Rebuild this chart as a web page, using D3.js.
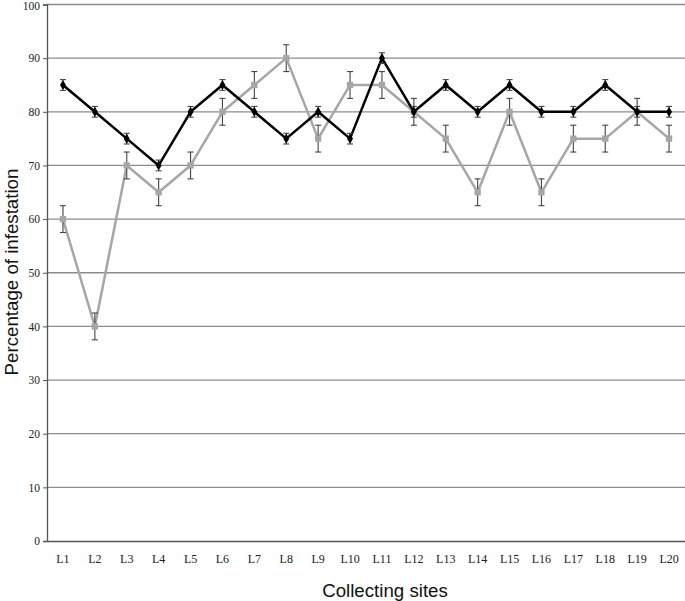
<!DOCTYPE html>
<html><head><meta charset="utf-8">
<script src="https://cdn.jsdelivr.net/npm/d3@7"></script>
<style>body{margin:0;background:#fff}</style>
</head><body>
<svg id="c" width="685" height="601"></svg>
<script>
const sites = ["L1","L2","L3","L4","L5","L6","L7","L8","L9","L10","L11","L12","L13","L14","L15","L16","L17","L18","L19","L20"];
const seriesBlack = [85,80,75,70,80,85,80,75,80,75,90,80,85,80,85,80,80,85,80,80];
const errBlack = [1,1,1,1,1,1,1,1,1,1,1,1,1,1,1,1,1,1,1,1];
const seriesGray = [60,40,70,65,70,80,85,90,75,85,85,80,75,65,80,65,75,75,80,75];
const errGray = [2.5,2.5,2.5,2.5,2.5,2.5,2.5,2.5,2.5,2.5,2.5,2.5,2.5,2.5,2.5,2.5,2.5,2.5,2.5,2.5];
const yTicks = [0,10,20,30,40,50,60,70,80,90,100];

const svg = d3.select("#c");
const L = 47, R = 685, T = 4.5, B = 541;
const x = d3.scaleBand().domain(sites).range([L, R]);
const y = d3.scaleLinear().domain([0,100]).range([B, T]);
const cx = d => x(d) + x.bandwidth()/2;

// gridlines
svg.append("g").selectAll("line").data(yTicks.filter(t=>t>0)).join("line")
  .attr("x1", L).attr("x2", R).attr("y1", d=>y(d)).attr("y2", d=>y(d))
  .attr("stroke", "#8c8c8c").attr("stroke-width", 1.3);

// y axis
const ya = svg.append("g").attr("transform", `translate(${L},0)`)
  .call(d3.axisLeft(y).tickValues(yTicks).tickSize(4).tickPadding(3));
ya.select(".domain").attr("stroke", "#555").attr("stroke-width", 1.3);
ya.selectAll(".tick line").attr("stroke", "#555");
ya.selectAll("text").attr("font-family", "Liberation Serif").attr("font-size", 11.5).attr("fill", "#222");
ya.selectAll(".tick").filter(d=>d===100).select("text").attr("dy", "0.45em");

// x axis
const xa = svg.append("g").attr("transform", `translate(0,${B})`)
  .call(d3.axisBottom(x).tickSize(0).tickPadding(13));
xa.select(".domain").attr("stroke", "#555").attr("stroke-width", 1.6);
xa.selectAll("text").attr("font-family", "Liberation Serif").attr("font-size", 12).attr("fill", "#222");

function drawSeries(vals, errs, color, marker) {
  const g = svg.append("g");
  const pts = sites.map((s,i)=>({s, v: vals[i], e: errs[i]}));
  g.append("path").datum(pts)
    .attr("d", d3.line().x(d=>cx(d.s)).y(d=>y(d.v)))
    .attr("fill","none").attr("stroke", color).attr("stroke-width", 2.5).attr("stroke-linejoin","round");
  const eb = g.selectAll("g.eb").data(pts).join("g");
  eb.append("line").attr("x1", d=>cx(d.s)).attr("x2", d=>cx(d.s))
    .attr("y1", d=>y(d.v+d.e)).attr("y2", d=>y(d.v-d.e)).attr("stroke","#444").attr("stroke-width",1.1);
  eb.append("line").attr("x1", d=>cx(d.s)-3).attr("x2", d=>cx(d.s)+3)
    .attr("y1", d=>y(d.v+d.e)).attr("y2", d=>y(d.v+d.e)).attr("stroke","#444").attr("stroke-width",1.1);
  eb.append("line").attr("x1", d=>cx(d.s)-3).attr("x2", d=>cx(d.s)+3)
    .attr("y1", d=>y(d.v-d.e)).attr("y2", d=>y(d.v-d.e)).attr("stroke","#444").attr("stroke-width",1.1);
  g.selectAll("path.m").data(pts).join("path").attr("class","m")
    .attr("d", d3.symbol().type(marker).size(marker===d3.symbolDiamond?30:40))
    .attr("transform", d=>`translate(${cx(d.s)},${y(d.v)})`)
    .attr("fill", color);
}
drawSeries(seriesGray, errGray, "#a6a6a6", d3.symbolSquare);
drawSeries(seriesBlack, errBlack, "#000", d3.symbolDiamond);

svg.append("text").attr("x", 385).attr("y", 597).attr("text-anchor","middle")
  .attr("font-family","Liberation Sans").attr("font-size", 18.7).attr("fill","#111").text("Collecting sites");
svg.append("text").attr("transform","translate(18,272) rotate(-90)").attr("text-anchor","middle")
  .attr("font-family","Liberation Sans").attr("font-size", 18.7).attr("fill","#111").text("Percentage of infestation");
</script>
</body></html>
